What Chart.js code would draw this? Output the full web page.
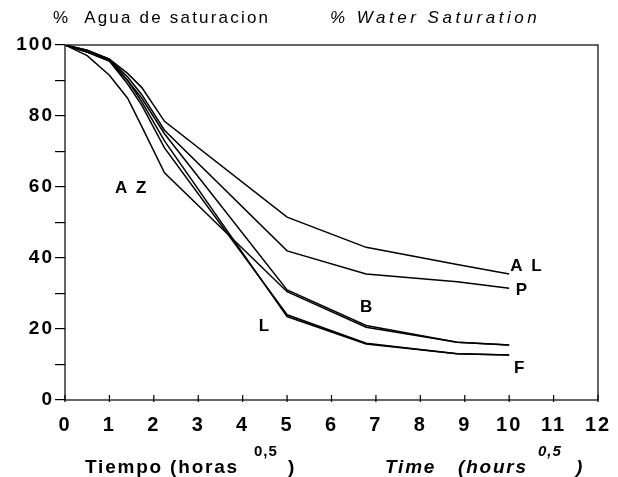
<!DOCTYPE html>
<html>
<head>
<meta charset="utf-8">
<script src="https://cdn.jsdelivr.net/npm/chart.js@4.4.1/dist/chart.umd.min.js"></script>
<style>
  html, body { margin: 0; padding: 0; background: #fff; }
  #wrap { width: 618px; height: 477px; }
</style>
</head>
<body>
<div id="wrap"><canvas id="sat" width="618" height="477"></canvas></div>
<script>
// sqrt(hours) sample times
const times = [0, 0.5, 1, 1.41, 1.73, 2.24, 5, 6.78, 8.83, 10];

const serieAL = [100, 98.5, 96, 92, 88, 78.5, 51.5, 43, 38.2, 35.5];
const serieP  = [100, 98.5, 96, 91, 86, 76, 42, 35.5, 33.3, 31.5];
const serieB  = [100, 98, 95.5, 90, 85, 75, 31, 21, 16.3, 15.5];
const serieAZ = [100, 97, 91.5, 85, 77, 64, 30.5, 20.5, 16.3, 15.5];
const serieL  = [100, 98, 95.5, 89, 83, 71, 24, 16, 13, 12.7];
const serieF  = [100, 98, 96, 90, 84, 73, 23.5, 15.8, 13, 12.7];

const seriesNames = ['AL', 'P', 'B', 'AZ', 'L', 'F'];
const seriesValues = [serieAL, serieP, serieB, serieAZ, serieL, serieF];

// curve labels in data coordinates
const labelText = ['A L', 'P', 'B', 'A Z', 'L', 'F'];
const labelX = [10.4, 10.3, 6.8, 1.5, 4.5, 10.25];
const labelY = [37.7, 31, 26, 59.7, 20.8, 9];

const xTicks = [0, 1, 2, 3, 4, 5, 6, 7, 8, 9, 10, 11, 12];

const FONT = '"Liberation Sans", Arial, sans-serif';

function pts(vals) {
    return vals.map((v, i) => ({ x: times[i], y: v }));
}

const decor = {
    id: 'decor',
    beforeDraw(chart) {
        // wide spacing for the tick labels
        chart.ctx.letterSpacing = '2px';
    },
    afterDraw(chart) {
        const { ctx, chartArea: a, scales: { x, y } } = chart;
        ctx.save();
        // frame
        ctx.strokeStyle = '#000';
        ctx.lineWidth = 1.2;
        ctx.strokeRect(a.left, a.top, a.right - a.left, a.bottom - a.top);
        // inward x ticks
        ctx.beginPath();
        xTicks.forEach(t => {
            const px = x.getPixelForValue(t);
            ctx.moveTo(px, a.bottom - 5);
            ctx.lineTo(px, a.bottom + 2);
        });
        ctx.stroke();

        ctx.fillStyle = '#000';
        ctx.textBaseline = 'middle';
        ctx.textAlign = 'center';
        ctx.font = 'bold 17px ' + FONT;
        ctx.letterSpacing = '2px';
        labelText.forEach((t, i) => {
            ctx.fillText(t, x.getPixelForValue(labelX[i]), y.getPixelForValue(labelY[i]));
        });

        // titles
        ctx.textAlign = 'left';
        ctx.letterSpacing = '2.2px';
        ctx.font = '17px ' + FONT;
        ctx.fillText('%  Agua de saturacion', 53, 18);
        ctx.letterSpacing = '3.5px';
        ctx.font = 'italic 17px ' + FONT;
        ctx.fillText('% Water Saturation', 330, 18);

        ctx.letterSpacing = '1.8px';
        ctx.font = 'bold 19px ' + FONT;
        ctx.fillText('Tiempo (horas', 85, 468);
        ctx.fillText(')', 288, 468);
        ctx.font = 'italic bold 19px ' + FONT;
        ctx.fillText('Time', 385, 468);
        ctx.fillText('(hours', 458, 468);
        ctx.fillText(')', 576, 468);
        ctx.letterSpacing = '1px';
        ctx.font = 'bold 15px ' + FONT;
        ctx.fillText('0,5', 254, 452);
        ctx.font = 'italic bold 15px ' + FONT;
        ctx.fillText('0,5', 538, 452);
        ctx.restore();
    }
};

new Chart(document.getElementById('sat'), {
    type: 'scatter',
    data: {
        datasets: seriesValues.map((vals, i) => ({
            label: seriesNames[i],
            data: pts(vals),
            showLine: true,
            borderColor: '#000',
            borderWidth: 1.5,
            pointRadius: 0,
            tension: 0,
            fill: false
        }))
    },
    options: {
        responsive: false,
        animation: false,
        layout: { padding: { top: 45, right: 20, left: 0, bottom: 0 } },
        plugins: {
            legend: { display: false },
            tooltip: { enabled: false }
        },
        scales: {
            x: {
                type: 'linear',
                min: 0,
                max: 12,
                border: { display: false },
                grid: { display: false },
                afterBuildTicks: s => { s.ticks = xTicks.map(v => ({ value: v })); },
                afterFit: s => { s.height = 77; },
                ticks: {
                    color: '#000',
                    padding: 5,
                    font: { family: FONT, size: 20, weight: 'bold' }
                }
            },
            y: {
                min: 0,
                max: 100,
                border: { display: false },
                grid: { drawOnChartArea: false, color: '#000', tickLength: 10, lineWidth: 1.2 },
                afterFit: s => { s.width = 65; },
                ticks: {
                    stepSize: 10,
                    color: '#000',
                    padding: 1,
                    callback: v => (v % 20 === 0 ? v : ''),
                    font: { family: FONT, size: 19, weight: 'bold' }
                }
            }
        }
    },
    plugins: [decor]
});
</script>
</body>
</html>
